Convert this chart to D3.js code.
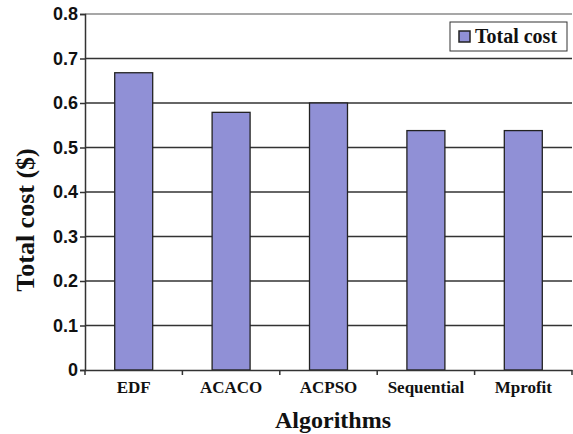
<!DOCTYPE html>
<html><head><meta charset="utf-8">
<script src="https://cdn.jsdelivr.net/npm/d3@7"></script>
<style>body{margin:0;background:#fff}svg{display:block}</style>
</head><body>
<svg id="c" width="573" height="434"></svg>
<script>
const categories = ["EDF","ACACO","ACPSO","Sequential","Mprofit"];
const totalCost = [0.668, 0.579, 0.600, 0.538, 0.538];
const yTicks = [0,0.1,0.2,0.3,0.4,0.5,0.6,0.7,0.8];
const yTickLabels = ["0","0.1","0.2","0.3","0.4","0.5","0.6","0.7","0.8"];
const seriesName = "Total cost";

const svg = d3.select("#c");
const L = 85, R = 572, T = 14, B = 370;
const serif = "'Liberation Serif', 'Times New Roman', serif";
const x = d3.scaleBand().domain(categories).range([L, R]).paddingInner(0.61).paddingOuter(0.305);
const y = d3.scaleLinear().domain([0, 0.8]).range([B, T]);

// gridlines
svg.append("g").selectAll("line").data(yTicks.filter(d => d > 0)).join("line")
  .attr("x1", L).attr("x2", R).attr("y1", d => y(d)).attr("y2", d => y(d))
  .attr("stroke", d => d === 0.8 ? "#8a8a8a" : "#333").attr("stroke-width", 1.5);

// bars
svg.append("g").selectAll("rect").data(totalCost).join("rect")
  .attr("x", (d, i) => x(categories[i]))
  .attr("width", x.bandwidth())
  .attr("y", d => y(d)).attr("height", d => B - y(d))
  .attr("fill", "#9090d6").attr("stroke", "#222").attr("stroke-width", 1.3);

// y axis
const ya = svg.append("g").attr("transform", `translate(${L},0)`)
  .call(d3.axisLeft(y).tickValues(yTicks).tickFormat((d, i) => yTickLabels[i]).tickSize(5).tickPadding(2));
ya.select(".domain").attr("stroke", "#333").attr("stroke-width", 1.5);
ya.selectAll(".tick line").attr("stroke", "#333").attr("stroke-width", 1.5);
ya.selectAll("text").attr("font-family", "Arial, 'Liberation Sans', sans-serif").attr("font-weight", "bold")
  .attr("font-size", 18).attr("fill", "#111");

// x axis
const xa = svg.append("g").attr("transform", `translate(0,${B})`)
  .call(d3.axisBottom(x).tickSize(0).tickPadding(11));
xa.select(".domain").attr("stroke", "#333").attr("stroke-width", 1.5);
xa.selectAll("text").attr("font-family", serif).attr("font-weight", "bold")
  .attr("font-size", 17).attr("fill", "#111");
// category boundary ticks
const bounds = d3.range(categories.length + 1).map(i => L + i * x.step());
svg.append("g").selectAll("line").data(bounds).join("line")
  .attr("x1", d => d).attr("x2", d => d).attr("y1", B).attr("y2", B + 5)
  .attr("stroke", "#333").attr("stroke-width", 1.5);

// axis titles
svg.append("text").attr("x", 333).attr("y", 428).attr("text-anchor", "middle")
  .attr("font-family", serif).attr("font-weight", "bold")
  .attr("font-size", 24).attr("fill", "#111").text("Algorithms");
svg.append("text").attr("transform", "translate(34,220) rotate(-90)").attr("text-anchor", "middle")
  .attr("font-family", serif).attr("font-weight", "bold")
  .attr("font-size", 26).attr("fill", "#111").text("Total cost ($)");

// legend
const lg = svg.append("g");
lg.append("rect").attr("x", 450).attr("y", 22).attr("width", 117).attr("height", 29)
  .attr("fill", "#fff").attr("stroke", "#333").attr("stroke-width", 1);
lg.append("rect").attr("x", 459).attr("y", 31).attr("width", 11).attr("height", 11)
  .attr("fill", "#9090d6").attr("stroke", "#222").attr("stroke-width", 1.5);
lg.append("text").attr("x", 475).attr("y", 43)
  .attr("font-family", serif).attr("font-weight", "bold")
  .attr("font-size", 20).attr("fill", "#111").text(seriesName);
</script>
</body></html>
